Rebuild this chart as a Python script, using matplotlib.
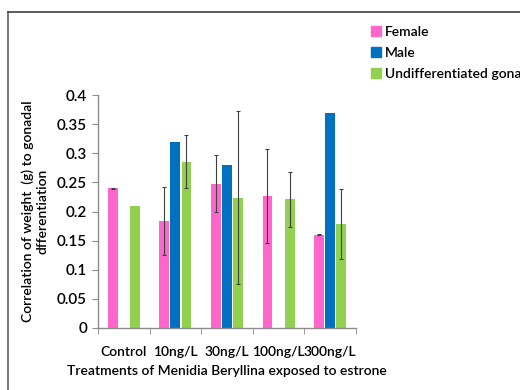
import numpy as np
import matplotlib
matplotlib.use('Agg')
import matplotlib.pyplot as plt
from matplotlib.patches import Patch
from matplotlib.lines import Line2D

plt.rcParams['font.family'] = ['Lato', 'DejaVu Sans']
fw = 'semibold'

treatments = ['Control', '10ng/L', '30ng/L', '100ng/L', '300ng/L']
female = [0.240, 0.184, 0.248, 0.227, 0.160]
female_err = [0.001, 0.058, 0.049, 0.081, 0.001]
male = [np.nan, 0.320, 0.280, np.nan, 0.370]
undiff = [0.210, 0.286, 0.224, 0.221, 0.179]
undiff_err = [0.0, 0.046, 0.149, 0.047, 0.060]

pink = '#ff66cc'
blue = '#0070c0'
green = '#92d050'
grey = '#8c8c8c'

fig = plt.figure(figsize=(5.2, 3.9), dpi=100)
ax = fig.add_axes([0.1885, 0.159, 0.496, 0.597])

x = np.arange(len(treatments))
w = 0.19
off = 0.215
err_kw = dict(ecolor='#404040', elinewidth=0.8, capsize=1.5, capthick=0.8)
ax.bar(x - off, female, w, color=pink, yerr=female_err, error_kw=err_kw, label='Female')
ax.bar(x, male, w, color=blue, label='Male')
ax.bar(x + off, undiff, w, color=green,
       yerr=[e if e > 0 else np.nan for e in undiff_err], error_kw=err_kw,
       label='Undifferentiated gonad')

ax.set_xlim(-0.5, len(treatments) - 0.5)
ax.set_ylim(0, 0.4)
ax.set_yticks(np.arange(0, 0.41, 0.05))
ax.set_yticklabels(['0', '0.05', '0.1', '0.15', '0.2', '0.25', '0.3', '0.35', '0.4'],
                   fontsize=11, fontweight=fw)
ax.set_xticks(x)
ax.set_xticklabels(treatments, fontsize=10, fontweight=fw)
ax.set_xticks(np.arange(-0.5, len(treatments)), minor=True)
ax.tick_params(axis='x', which='major', length=0, pad=13)
ax.tick_params(axis='x', which='minor', length=4, color=grey, direction='out')
ax.tick_params(axis='y', length=4, color=grey, pad=4)

for s in ['top', 'right']:
    ax.spines[s].set_visible(False)
for s in ['left', 'bottom']:
    ax.spines[s].set_color(grey)
    ax.spines[s].set_linewidth(1.0)

ax.set_ylabel('Correlation of weight  (g) to gonadal\ndfferentiation', fontsize=10,
              fontweight=fw, labelpad=6)
ax.set_xlabel('Treatments of Menidia Beryllina exposed to estrone', fontsize=10,
              fontweight=fw, labelpad=5)

# legend outside on the right
handles = [Patch(color=pink), Patch(color=blue), Patch(color=green)]
labels = ['Female', 'Male', 'Undifferentiated gonad']
fig.legend(handles, labels, loc='upper left', bbox_to_anchor=(0.69, 0.965),
           frameon=False, handlelength=0.7, handleheight=0.7, handletextpad=0.3,
           labelspacing=0.65, prop={'size': 10, 'weight': fw})

# outer frame lines
fig.add_artist(Line2D([8 / 520, 8 / 520], [0, 1 - 12 / 390], color='#606060', lw=1.2))
fig.add_artist(Line2D([8 / 520, 1], [1 - 12 / 390, 1 - 12 / 390], color='#404040', lw=1.2))

fig.savefig('out.png', dpi=100)
